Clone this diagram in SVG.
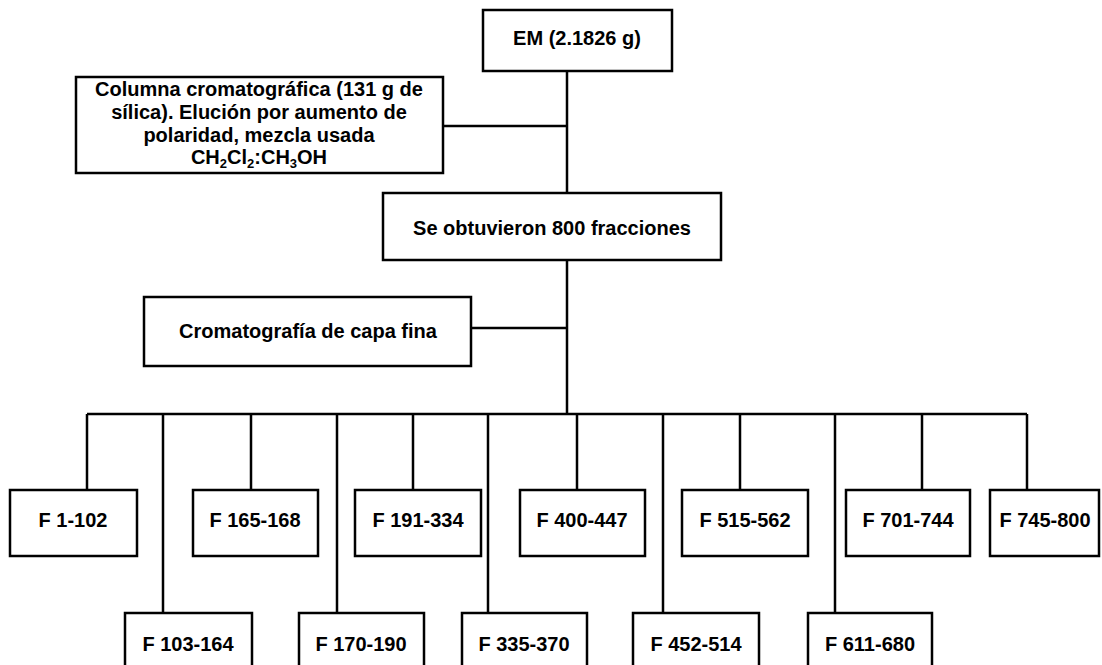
<svg xmlns="http://www.w3.org/2000/svg" width="1102" height="665" viewBox="0 0 1102 665">
<style>
.box{fill:#fff;stroke:#000;stroke-width:2.5}
.t{font-family:"Liberation Sans",Arial,sans-serif;font-weight:bold;font-size:20px;fill:#000;text-anchor:middle}
.c{fill:none;stroke:#000;stroke-width:2.5}
</style>
<rect width="1102" height="665" fill="#fff"/>
<g id="connectors">
<path class="c" d="M567 71V414M443 126H567M471 328H567M87 414H1027"/>
<path class="c" d="M87 414V490M251 414V490M413 414V490M577 414V490M740 414V490M922 414V490M1027 414V490"/>
<path class="c" d="M163 414V613M337 414V613M488 414V613M663 414V613M835 414V613"/>
</g>
<g id="em"><rect class="box" x="483" y="10" width="189" height="61"/><text class="t" x="577" y="45">EM (2.1826 g)</text></g>
<g id="columna"><rect class="box" x="76" y="77" width="367" height="96"/>
<text class="t" x="259" y="96">Columna cromatográfica (131 g de</text>
<text class="t" x="259" y="119">sílica). Elución por aumento de</text>
<text class="t" x="259" y="142">polaridad, mezcla usada</text>
<text class="t" x="259" y="164">CH<tspan font-size="13" dy="4">2</tspan><tspan dy="-4">Cl</tspan><tspan font-size="13" dy="4">2</tspan><tspan dy="-4">:CH</tspan><tspan font-size="13" dy="4">3</tspan><tspan dy="-4">OH</tspan></text></g>
<g id="fracciones"><rect class="box" x="383" y="193" width="338" height="67"/><text class="t" x="552" y="235">Se obtuvieron 800 fracciones</text></g>
<g id="ccf"><rect class="box" x="144" y="297" width="327" height="69"/><text class="t" x="308" y="338">Cromatografía de capa fina</text></g>
<g id="f1"><rect class="box" x="10" y="490" width="127" height="66"/><text class="t" x="73" y="527">F 1-102</text></g>
<g id="f165"><rect class="box" x="193" y="490" width="125" height="66"/><text class="t" x="255" y="527">F 165-168</text></g>
<g id="f191"><rect class="box" x="355" y="490" width="126" height="66"/><text class="t" x="418" y="527">F 191-334</text></g>
<g id="f400"><rect class="box" x="520" y="490" width="125" height="66"/><text class="t" x="582" y="527">F 400-447</text></g>
<g id="f515"><rect class="box" x="682" y="490" width="126" height="66"/><text class="t" x="745" y="527">F 515-562</text></g>
<g id="f701"><rect class="box" x="846" y="490" width="124" height="66"/><text class="t" x="908" y="527">F 701-744</text></g>
<g id="f745"><rect class="box" x="990" y="490" width="109" height="66"/><text class="t" x="1045" y="527">F 745-800</text></g>
<g id="f103"><rect class="box" x="125" y="613" width="127" height="70"/><text class="t" x="188" y="651">F 103-164</text></g>
<g id="f170"><rect class="box" x="299" y="613" width="125" height="70"/><text class="t" x="361" y="651">F 170-190</text></g>
<g id="f335"><rect class="box" x="462" y="613" width="125" height="70"/><text class="t" x="524" y="651">F  335-370</text></g>
<g id="f452"><rect class="box" x="633" y="613" width="126" height="70"/><text class="t" x="696" y="651">F 452-514</text></g>
<g id="f611"><rect class="box" x="808" y="613" width="124" height="70"/><text class="t" x="870" y="651">F 611-680</text></g>
</svg>
